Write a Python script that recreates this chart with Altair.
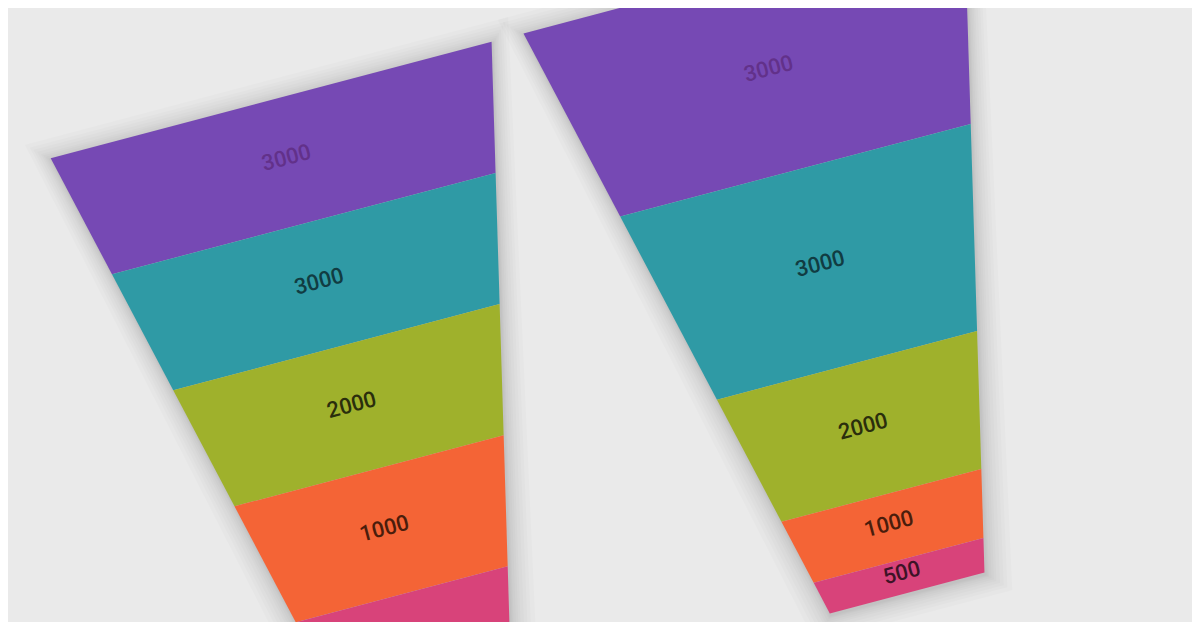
import math
import altair as alt
import pandas as pd

# ---- data -------------------------------------------------------------
stages = ["A", "B", "C", "D", "E"]
values = [3000, 3000, 2000, 1000, 500]
labels = ["3000", "3000", "2000", "1000", "500"]
modes = ["equal", "dynamic"]          # left funnel: equal heights, right: value heights

# ---- style / layout ----------------------------------------------------
seg_colors = ["#7649B4", "#2F9AA5", "#9FB12C", "#F46436", "#D8437A"]
label_colors = ["#62318A", "#113C42", "#2A2E0C", "#4A1D0C", "#3E1327"]
BG = "#EAEAEA"
TOP_W, BOT_W, H = 456.0, 160.0, 639.0
GAP = 33.0
THETA = math.radians(14.8)
C, S = math.cos(THETA), math.sin(THETA)
ORIGIN = (50.7, 158.3)
PAGE_H = 630


def to_screen(fi, u, v):
    u = u + fi * (TOP_W + GAP)
    return (ORIGIN[0] + u * C + v * S, ORIGIN[1] - u * S + v * C)


def half_inset(v):
    return (TOP_W - BOT_W) / 2.0 * v / H


poly_rows, text_rows, shadow_rows = [], [], []
total = sum(values)
for fi, mode in enumerate(modes):
    if mode == "equal":
        bounds = [H * i / len(values) for i in range(len(values) + 1)]
    else:
        cum = [0]
        for val in values:
            cum.append(cum[-1] + val)
        bounds = [H * c / total for c in cum]
    for si, stg in enumerate(stages):
        v0, v1 = bounds[si], bounds[si + 1]
        pts = [
            (half_inset(v0), v0),
            (TOP_W - half_inset(v0), v0),
            (TOP_W - half_inset(v1), v1),
            (half_inset(v1), v1),
        ]
        pid = f"{fi}-{si}"
        for k, (u, v) in enumerate(pts):
            x, y = to_screen(fi, u, v)
            poly_rows.append({"poly": pid, "k": k, "x": x, "y": y, "stage": stg})
        x, y = to_screen(fi, TOP_W / 2.0, (v0 + v1) / 2.0)
        if y < PAGE_H:   # labels that fall below the visible page are not shown
            text_rows.append({"x": x, "y": y, "label": labels[si], "lc": label_colors[si]})
    # soft shadow outlines
    for d in [1, 2, 3, 5, 7, 9, 12, 15, 18, 22]:
        pts = [
            (-d, -d),
            (TOP_W + d, -d),
            (TOP_W - half_inset(H) + d, H + d),
            (half_inset(H) - d, H + d),
        ]
        for k, (u, v) in enumerate(pts):
            x, y = to_screen(fi, u, v)
            shadow_rows.append({"poly": f"s{fi}-{d}", "k": k, "x": x + 1, "y": y + 2})

polys = pd.DataFrame(poly_rows)
texts = pd.DataFrame(text_rows)
shadows = pd.DataFrame(shadow_rows)

xs = alt.Scale(domain=[8, 1192], nice=False, zero=False)
ys = alt.Scale(domain=[8, 622], nice=False, zero=False, reverse=True)
X = alt.X("x:Q", scale=xs, axis=None)
Y = alt.Y("y:Q", scale=ys, axis=None)

shadow = alt.Chart(shadows).mark_line(
    filled=True, interpolate="linear-closed", color="#000000", opacity=0.017, clip=True
).encode(x=X, y=Y, detail="poly:N", order="k:Q")

funnel = alt.Chart(polys).mark_line(
    filled=True, interpolate="linear-closed", clip=True
).encode(
    x=X,
    y=Y,
    detail="poly:N",
    order="k:Q",
    color=alt.Color("stage:N", scale=alt.Scale(domain=stages, range=seg_colors), legend=None),
)

text = alt.Chart(texts).mark_text(
    font="Roboto", fontSize=22, fontWeight=500, angle=345.2, align="center",
    baseline="middle", dy=-4, clip=True
).encode(
    x=X,
    y=Y,
    text="label:N",
    color=alt.Color("lc:N", scale=None),
)

chart = (
    alt.layer(shadow, funnel, text)
    .properties(width=1184, height=614, padding=0, background=BG,
                autosize=alt.AutoSizeParams(type="none"))
    .configure_view(stroke=None)
)

chart.save("out.html", embed_options={"renderer": "svg", "actions": False})
